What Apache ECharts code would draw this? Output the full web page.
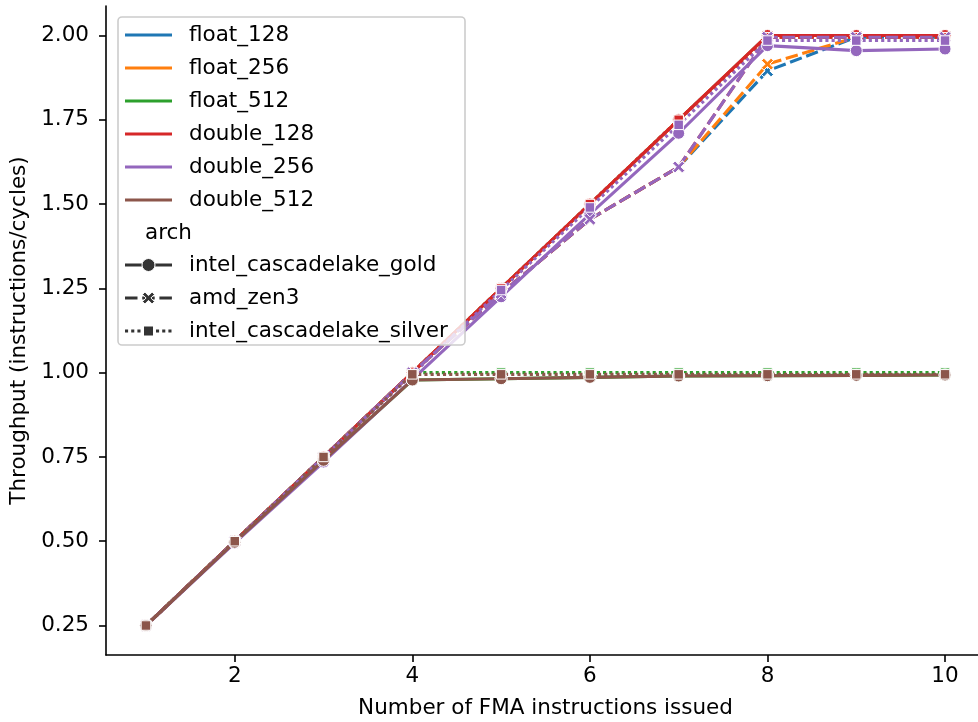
<!DOCTYPE html>
<html>
<head>
<meta charset="utf-8">
<script src="https://cdn.jsdelivr.net/npm/echarts@6/dist/echarts.min.js"></script>
<style>
html,body{margin:0;padding:0;background:#fff;}
#chart{width:978px;height:722px;}
</style>
</head>
<body>
<div id="chart"></div>
<script>
// ---- data ----
const xs = [1, 2, 3, 4, 5, 6, 7, 8, 9, 10];
const types = ['float_128', 'float_256', 'float_512', 'double_128', 'double_256', 'double_512'];
const archs = ['intel_cascadelake_gold', 'amd_zen3', 'intel_cascadelake_silver'];
const xTicks = [2, 4, 6, 8, 10];
const yTicks = [0.25, 0.5, 0.75, 1.0, 1.25, 1.5, 1.75, 2.0];

// intel_cascadelake_gold
const gold_float_128  = [0.25, 0.5, 0.75, 1.0, 1.25, 1.5, 1.75, 2.0, 2.0, 2.0];
const gold_float_256  = [0.25, 0.5, 0.75, 1.0, 1.25, 1.5, 1.75, 2.0, 2.0, 2.0];
const gold_float_512  = [0.25, 0.5, 0.74, 0.978, 0.982, 0.986, 0.99, 0.991, 0.992, 0.993];
const gold_double_128 = [0.25, 0.5, 0.75, 1.0, 1.25, 1.5, 1.75, 2.0, 2.0, 2.0];
const gold_double_256 = [0.25, 0.495, 0.735, 0.98, 1.225, 1.47, 1.71, 1.97, 1.955, 1.96];
const gold_double_512 = [0.25, 0.497, 0.74, 0.978, 0.982, 0.986, 0.99, 0.991, 0.992, 0.993];
// amd_zen3
const zen_float_128  = [0.25, 0.5, 0.75, 1.0, 1.235, 1.455, 1.61, 1.895, 1.995, 1.995];
const zen_float_256  = [0.25, 0.5, 0.75, 1.0, 1.235, 1.455, 1.61, 1.915, 1.995, 1.995];
const zen_double_128 = [0.25, 0.5, 0.75, 1.0, 1.235, 1.455, 1.61, 1.995, 1.995, 1.995];
const zen_double_256 = [0.25, 0.5, 0.75, 1.0, 1.235, 1.455, 1.61, 1.995, 1.995, 1.995];
// intel_cascadelake_silver
const silver_float_128  = [0.25, 0.5, 0.75, 1.0, 1.25, 1.5, 1.75, 1.995, 1.995, 1.995];
const silver_float_256  = [0.25, 0.5, 0.75, 1.0, 1.25, 1.5, 1.75, 1.995, 1.995, 1.995];
const silver_float_512  = [0.25, 0.5, 0.75, 1.0, 1.0, 1.0, 1.0, 1.0, 1.0, 1.0];
const silver_double_128 = [0.25, 0.5, 0.75, 1.0, 1.25, 1.5, 1.75, 1.995, 1.995, 1.995];
const silver_double_256 = [0.25, 0.5, 0.75, 0.995, 1.245, 1.49, 1.735, 1.985, 1.985, 1.985];
const silver_double_512 = [0.25, 0.5, 0.75, 0.995, 0.995, 0.995, 0.995, 0.995, 0.995, 0.995];

const values = {
  intel_cascadelake_gold: {float_128: gold_float_128, float_256: gold_float_256, float_512: gold_float_512,
    double_128: gold_double_128, double_256: gold_double_256, double_512: gold_double_512},
  amd_zen3: {float_128: zen_float_128, float_256: zen_float_256,
    double_128: zen_double_128, double_256: zen_double_256},
  intel_cascadelake_silver: {float_128: silver_float_128, float_256: silver_float_256, float_512: silver_float_512,
    double_128: silver_double_128, double_256: silver_double_256, double_512: silver_double_512}
};

// ---- styles ----
const colors = {float_128: '#1f77b4', float_256: '#ff7f0e', float_512: '#2ca02c',
  double_128: '#d62728', double_256: '#9467bd', double_512: '#8c564b'};
const xPts = [[0,2],[2,0],[5,3],[8,0],[10,2],[7,5],[10,8],[8,10],[5,7],[2,10],[0,8],[3,5]];
const xPath = 'path://M' + xPts.map(p => p[0] + ',' + p[1]).join('L') + 'Z';
const archStyle = {
  intel_cascadelake_gold: {symbol: 'circle', size: 12, dash: 'solid'},
  amd_zen3: {symbol: xPath, size: 12, dash: [12.5, 4.7]},
  intel_cascadelake_silver: {symbol: 'rect', size: 9.5, dash: [3.1, 3.1]}
};
const FONT = 'DejaVu Sans';
const FS = 21.5;

const series = [];
types.forEach(t => {
  archs.forEach(a => {
    const v = values[a][t];
    if (!v) return;
    const st = archStyle[a];
    series.push({
      type: 'line',
      name: t + ' / ' + a,
      data: xs.map((x, i) => [x, v[i]]),
      symbol: st.symbol,
      symbolSize: st.size,
      showAllSymbol: true,
      clip: false,
      lineStyle: {color: colors[t], width: 3.1, type: st.dash, cap: 'butt'},
      itemStyle: {color: colors[t], borderColor: '#fff', borderWidth: 1},
      emphasis: {disabled: true},
      animation: false
    });
  });
});

// ---- legend via graphic ----
const graphic = [];
const lx = 118, ly = 17, lw = 347, lh = 328;
graphic.push({type: 'rect', shape: {x: lx, y: ly, width: lw, height: lh, r: 4},
  style: {fill: 'rgba(255,255,255,0.8)', stroke: '#cccccc', lineWidth: 1.6}, z: 100});
const rowY0 = 35, rowDy = 33;
const fontStr = FS + 'px "' + FONT + '"';
types.forEach((t, i) => {
  const y = rowY0 + i * rowDy;
  graphic.push({type: 'line', shape: {x1: 125, y1: y, x2: 172, y2: y},
    style: {stroke: colors[t], lineWidth: 3.1}, z: 101});
  graphic.push({type: 'text', x: 189, y: y, style: {text: t, font: fontStr,
    fill: '#000', verticalAlign: 'middle'}, z: 101});
});
graphic.push({type: 'text', x: 145, y: rowY0 + 6 * rowDy, style: {text: 'arch', font: fontStr,
  fill: '#000', verticalAlign: 'middle'}, z: 101});
archs.forEach((a, i) => {
  const y = rowY0 + (7 + i) * rowDy - 1;
  const st = archStyle[a];
  graphic.push({type: 'line', shape: {x1: 125, y1: y, x2: 172, y2: y},
    style: {stroke: '#333333', lineWidth: 3.1, lineDash: st.dash === 'solid' ? null : st.dash}, z: 101});
  graphic.push({type: 'text', x: 189, y: y, style: {text: a, font: fontStr,
    fill: '#000', verticalAlign: 'middle'}, z: 101});
});
// legend markers
const cyG = rowY0 + 7 * rowDy - 1, cyZ = rowY0 + 8 * rowDy - 1, cyS = rowY0 + 9 * rowDy - 1;
graphic.push({type: 'circle', shape: {cx: 148.5, cy: cyG, r: 6.5}, style: {fill: '#333333', stroke: '#fff', lineWidth: 1}, z: 102});
graphic.push({type: 'polygon', shape: {points: xPts.map(p => [142.5 + p[0] * 1.2, cyZ - 6 + p[1] * 1.2])},
  style: {fill: '#333333', stroke: '#fff', lineWidth: 1}, z: 102});
graphic.push({type: 'rect', shape: {x: 143.5, y: cyS - 5, width: 10, height: 10}, style: {fill: '#333333', stroke: '#fff', lineWidth: 1}, z: 102});

const chart = echarts.init(document.getElementById('chart'), null, {renderer: 'canvas'});
chart.setOption({
  animation: false,
  backgroundColor: '#fff',
  grid: {left: 106, top: 6, width: 879, height: 649, containLabel: false, outerBoundsMode: 'none'},
  xAxis: {
    type: 'value', min: 0.55, max: 10.45,
    name: 'Number of FMA instructions issued', nameLocation: 'middle', nameGap: 42,
    nameTextStyle: {fontFamily: FONT, fontSize: FS, color: '#000'},
    axisLine: {show: true, onZero: false, lineStyle: {color: '#000', width: 1.6}},
    axisTick: {show: true, customValues: xTicks, length: 7, lineStyle: {color: '#000', width: 1.6}},
    axisLabel: {customValues: xTicks, fontFamily: FONT, fontSize: FS, color: '#000', margin: 10},
    splitLine: {show: false}
  },
  yAxis: {
    type: 'value', min: 0.1625, max: 2.0875,
    name: 'Throughput (instructions/cycles)', nameLocation: 'middle', nameGap: 72,
    nameTextStyle: {fontFamily: FONT, fontSize: FS, color: '#000'},
    axisLine: {show: true, onZero: false, lineStyle: {color: '#000', width: 1.6}},
    axisTick: {show: true, customValues: yTicks, length: 7, lineStyle: {color: '#000', width: 1.6}},
    axisLabel: {customValues: yTicks, fontFamily: FONT, fontSize: FS, color: '#000', margin: 17,
      formatter: v => v.toFixed(2)},
    splitLine: {show: false}
  },
  series: series,
  graphic: graphic
});
</script>
</body>
</html>
